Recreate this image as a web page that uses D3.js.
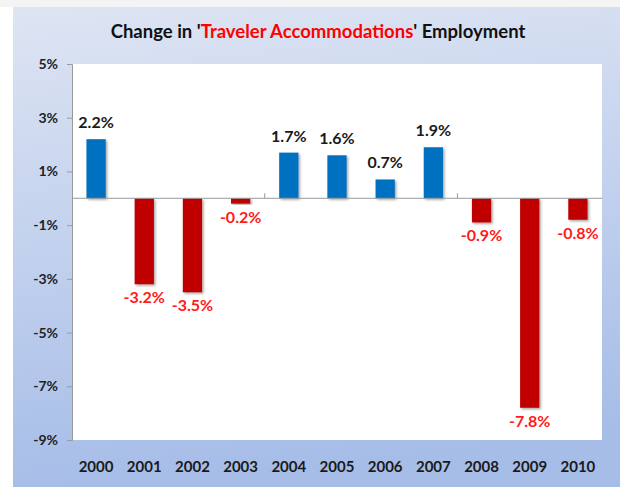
<!DOCTYPE html>
<html>
<head>
  <meta charset="utf-8">
  <title>Traveler Accommodations Employment</title>
  <script src="https://cdn.jsdelivr.net/npm/d3@7/dist/d3.min.js"></script>
  <style>
    body { margin:0; background:white; }
    text { font-family: Lato, "Open Sans", sans-serif; font-weight:bold; }
  </style>
</head>
<body>
<div id="chart"></div>
<script>
  // data
  var years = ["2000","2001","2002","2003","2004","2005","2006","2007","2008","2009","2010"];
  var changes = [2.2, -3.2, -3.5, -0.2, 1.7, 1.6, 0.7, 1.9, -0.9, -7.8, -0.8];
  var yTicks = [5, 3, 1, -1, -3, -5, -7, -9];

  var W = 620, H = 487;
  var plot = {left:72, right:602, top:64, bottom:440};

  var svg = d3.select('#chart').append('svg')
    .attr('width', W).attr('height', H);

  var defs = svg.append('defs');
  var grad = defs.append('linearGradient')
    .attr('id', 'bg').attr('x1', 0).attr('y1', 0).attr('x2', 0.15).attr('y2', 1);
  grad.append('stop').attr('offset', '0%').attr('stop-color', '#dee5f3');
  grad.append('stop').attr('offset', '100%').attr('stop-color', '#a6bde8');

  var shadow = defs.append('filter').attr('id', 'shadow')
    .attr('x', '-30%').attr('y', '-10%').attr('width', '160%').attr('height', '130%');
  shadow.append('feDropShadow')
    .attr('dx', 1.5).attr('dy', 1.5).attr('stdDeviation', 1.2)
    .attr('flood-color', '#000').attr('flood-opacity', 0.35);

  // faint shadow above the chart box
  svg.append('rect').attr('x', 0).attr('y', 0).attr('width', W).attr('height', 7).attr('fill', '#f4f4f4');
  svg.append('rect').attr('x', 13).attr('y', 7).attr('width', W - 13).attr('height', H - 7)
    .attr('fill', 'url(#bg)');

  svg.append('rect')
    .attr('x', plot.left).attr('y', plot.top)
    .attr('width', plot.right - plot.left).attr('height', plot.bottom - plot.top)
    .attr('fill', 'white');

  // title
  var title = svg.append('text')
    .attr('x', 318).attr('y', 38)
    .attr('text-anchor', 'middle')
    .attr('font-size', 18.5)
    .attr('fill', '#111');
  title.append('tspan').text("Change in '");
  title.append('tspan').attr('fill', '#ff0000').text('Traveler Accommodations');
  title.append('tspan').text("' Employment");

  var x = d3.scaleBand()
    .domain(years)
    .range([plot.left, plot.right])
    .paddingInner(0.6)
    .paddingOuter(0.3);

  var y = d3.scaleLinear()
    .domain([-9, 5])
    .range([plot.bottom, plot.top]);

  // y axis
  var yAxis = d3.axisLeft(y)
    .tickValues(yTicks)
    .tickSize(5)
    .tickPadding(9)
    .tickFormat(function(d) { return d + '%'; });

  var gy = svg.append('g')
    .attr('transform', 'translate(' + plot.left + ',0)')
    .call(yAxis);
  gy.selectAll('path, line').attr('stroke', '#9a9a9a');
  gy.selectAll('text').attr('font-size', 14).attr('fill', '#222')
    .attr('font-family', 'Lato, sans-serif').attr('font-weight', 'bold');

  // bars
  svg.selectAll('rect.bar')
    .data(changes)
    .enter().append('rect')
    .attr('class', 'bar')
    .attr('x', function(d, i) { return x(years[i]); })
    .attr('width', x.bandwidth())
    .attr('y', function(d) { return y(Math.max(0, d)); })
    .attr('height', function(d) { return Math.abs(y(d) - y(0)); })
    .attr('fill', function(d) { return d >= 0 ? '#0070c0' : '#c00000'; })
    .attr('filter', 'url(#shadow)');

  // zero line with a tick every four categories
  svg.append('line')
    .attr('x1', plot.left).attr('x2', plot.right)
    .attr('y1', y(0)).attr('y2', y(0))
    .attr('stroke', '#9a9a9a');
  var step = x.step();
  [4, 8].forEach(function(k) {
    var bx = x(years[k]) - step * x.paddingInner() / 2;
    svg.append('line')
      .attr('x1', bx).attr('x2', bx)
      .attr('y1', y(0)).attr('y2', y(0) - 5)
      .attr('stroke', '#9a9a9a');
  });

  // value labels
  svg.selectAll('text.val')
    .data(changes)
    .enter().append('text')
    .attr('class', 'val')
    .attr('x', function(d, i) { return x(years[i]) + x.bandwidth() / 2; })
    .attr('y', function(d) { return d >= 0 ? y(d) - 11 : y(d) + 19; })
    .attr('text-anchor', 'middle')
    .attr('font-size', 16)
    .attr('fill', function(d) { return d >= 0 ? '#1a1a1a' : '#ff1a1a'; })
    .text(function(d) { return d.toFixed(1) + '%'; });

  // year labels
  svg.selectAll('text.year')
    .data(years)
    .enter().append('text')
    .attr('class', 'year')
    .attr('x', function(d) { return x(d) + x.bandwidth() / 2; })
    .attr('y', 472)
    .attr('text-anchor', 'middle')
    .attr('font-size', 15)
    .attr('fill', '#1a1a1a')
    .text(function(d) { return d; });
</script>
</body>
</html>
